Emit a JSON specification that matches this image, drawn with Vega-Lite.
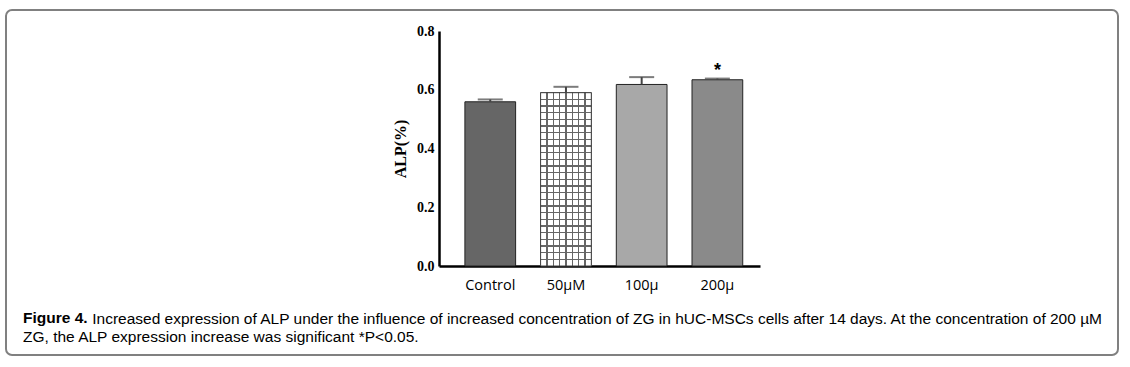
{
  "$schema": "https://vega.github.io/schema/vega-lite/v6.json",
  "autosize": {"type": "none"},
  "width": 1112,
  "height": 345,
  "padding": {"left": 6, "top": 10, "right": 12, "bottom": 12},
  "background": "white",
  "config": {
    "view": {"stroke": "#808080", "strokeWidth": 2, "cornerRadius": 6},
    "axis": {"grid": false}
  },
  "title": {
    "text": "Figure 4.",
    "subtitle": "ZG, the ALP expression increase was significant *P<0.05.",
    "orient": "bottom",
    "anchor": "start",
    "frame": "bounds",
    "offset": -44,
    "dx": 17,
    "font": "Liberation Sans",
    "fontSize": 15.5,
    "fontWeight": "bold",
    "color": "#000000",
    "subtitleFont": "Liberation Sans",
    "subtitleFontSize": 15.5,
    "subtitleFontWeight": "normal",
    "subtitleColor": "#000000",
    "subtitlePadding": 3.5
  },
  "data": {
    "values": [
      {"group": "Control", "mean": 0.559, "upper": 0.567, "sig": ""},
      {"group": "50µM", "mean": 0.590, "upper": 0.610, "sig": ""},
      {"group": "100µ", "mean": 0.618, "upper": 0.643, "sig": ""},
      {"group": "200µ", "mean": 0.634, "upper": 0.638, "sig": "*"}
    ]
  },
  "encoding": {
    "x": {
      "field": "group",
      "type": "nominal",
      "sort": null,
      "scale": {"range": [433, 754], "paddingInner": 0.33, "paddingOuter": 0.285, "align": 0.6},
      "axis": {
        "orient": "bottom",
        "offset": -89,
        "title": "Increased expression of ALP under the influence of increased concentration of ZG in hUC-MSCs cells after 14 days. At the concentration of 200 µM",
        "titleX": 85.7,
        "titleY": 45.5,
        "titleAlign": "left",
        "titleAnchor": "start",
        "titleBaseline": "top",
        "titleFont": "Liberation Sans",
        "titleFontSize": 15.5,
        "titleFontWeight": "normal",
        "titleColor": "#000000",
        "ticks": false,
        "labelAngle": 0,
        "labelPadding": 12,
        "labelFont": "Open Sans",
        "labelFontSize": 14.5,
        "labelColor": "#000000",
        "domainColor": "#000000",
        "domainWidth": 2.5
      }
    },
    "y": {
      "field": "mean",
      "type": "quantitative",
      "scale": {"domain": [0, 0.8], "range": [256, 21], "nice": false, "zero": true},
      "axis": {
        "orient": "left",
        "offset": -433,
        "title": "ALP(%)",
        "titleFont": "Liberation Serif",
        "titleFontSize": 16,
        "titleFontWeight": "bold",
        "titleColor": "#000000",
        "titlePadding": 8,
        "values": [0, 0.2, 0.4, 0.6, 0.8],
        "format": ".1f",
        "ticks": false,
        "labelPadding": 5,
        "labelFont": "Liberation Serif",
        "labelFontSize": 14,
        "labelFontWeight": "bold",
        "labelColor": "#000000",
        "domainColor": "#000000",
        "domainWidth": 2.5
      }
    }
  },
  "layer": [
    {
      "mark": {"type": "bar", "stroke": "#222222", "strokeWidth": 1},
      "encoding": {
        "fill": {
          "field": "group",
          "type": "nominal",
          "sort": null,
          "scale": {"domain": ["Control", "50µM", "100µ", "200µ"], "range": ["#666666", "#ffffff", "#a8a8a8", "#8a8a8a"]},
          "legend": null
        }
      }
    },
    {
      "transform": [{"filter": "datum.group == '50µM'"}],
      "mark": {
        "type": "bar",
        "fill": {
          "gradient": "linear", "x1": 0, "y1": 0, "x2": 1, "y2": 0,
          "stops": [
            {"offset": 0, "color": "#ffffff"},
            {"offset": 0.113, "color": "#ffffff"}, {"offset": 0.113, "color": "#666666"}, {"offset": 0.137, "color": "#666666"}, {"offset": 0.137, "color": "#ffffff"},
            {"offset": 0.238, "color": "#ffffff"}, {"offset": 0.238, "color": "#666666"}, {"offset": 0.262, "color": "#666666"}, {"offset": 0.262, "color": "#ffffff"},
            {"offset": 0.363, "color": "#ffffff"}, {"offset": 0.363, "color": "#666666"}, {"offset": 0.387, "color": "#666666"}, {"offset": 0.387, "color": "#ffffff"},
            {"offset": 0.488, "color": "#ffffff"}, {"offset": 0.488, "color": "#666666"}, {"offset": 0.512, "color": "#666666"}, {"offset": 0.512, "color": "#ffffff"},
            {"offset": 0.613, "color": "#ffffff"}, {"offset": 0.613, "color": "#666666"}, {"offset": 0.637, "color": "#666666"}, {"offset": 0.637, "color": "#ffffff"},
            {"offset": 0.738, "color": "#ffffff"}, {"offset": 0.738, "color": "#666666"}, {"offset": 0.762, "color": "#666666"}, {"offset": 0.762, "color": "#ffffff"},
            {"offset": 0.863, "color": "#ffffff"}, {"offset": 0.863, "color": "#666666"}, {"offset": 0.887, "color": "#666666"}, {"offset": 0.887, "color": "#ffffff"},
            {"offset": 1, "color": "#ffffff"}
          ]
        }
      }
    },
    {
      "transform": [{"filter": "datum.group == '50µM'"}],
      "mark": {
        "type": "bar",
        "stroke": "#444444",
        "strokeWidth": 1,
        "fill": {
          "gradient": "linear", "x1": 0, "y1": 0, "x2": 0, "y2": 1,
          "stops": [
            {"offset": 0, "color": "rgba(0,0,0,0)"},
            {"offset": 0.035, "color": "rgba(0,0,0,0)"}, {"offset": 0.035, "color": "#666666"}, {"offset": 0.042, "color": "#666666"}, {"offset": 0.042, "color": "rgba(0,0,0,0)"},
            {"offset": 0.0734, "color": "rgba(0,0,0,0)"}, {"offset": 0.0734, "color": "#666666"}, {"offset": 0.0804, "color": "#666666"}, {"offset": 0.0804, "color": "rgba(0,0,0,0)"},
            {"offset": 0.1119, "color": "rgba(0,0,0,0)"}, {"offset": 0.1119, "color": "#666666"}, {"offset": 0.1189, "color": "#666666"}, {"offset": 0.1189, "color": "rgba(0,0,0,0)"},
            {"offset": 0.1503, "color": "rgba(0,0,0,0)"}, {"offset": 0.1503, "color": "#666666"}, {"offset": 0.1573, "color": "#666666"}, {"offset": 0.1573, "color": "rgba(0,0,0,0)"},
            {"offset": 0.1888, "color": "rgba(0,0,0,0)"}, {"offset": 0.1888, "color": "#666666"}, {"offset": 0.1958, "color": "#666666"}, {"offset": 0.1958, "color": "rgba(0,0,0,0)"},
            {"offset": 0.2273, "color": "rgba(0,0,0,0)"}, {"offset": 0.2273, "color": "#666666"}, {"offset": 0.2343, "color": "#666666"}, {"offset": 0.2343, "color": "rgba(0,0,0,0)"},
            {"offset": 0.2657, "color": "rgba(0,0,0,0)"}, {"offset": 0.2657, "color": "#666666"}, {"offset": 0.2727, "color": "#666666"}, {"offset": 0.2727, "color": "rgba(0,0,0,0)"},
            {"offset": 0.3042, "color": "rgba(0,0,0,0)"}, {"offset": 0.3042, "color": "#666666"}, {"offset": 0.3112, "color": "#666666"}, {"offset": 0.3112, "color": "rgba(0,0,0,0)"},
            {"offset": 0.3427, "color": "rgba(0,0,0,0)"}, {"offset": 0.3427, "color": "#666666"}, {"offset": 0.3497, "color": "#666666"}, {"offset": 0.3497, "color": "rgba(0,0,0,0)"},
            {"offset": 0.3811, "color": "rgba(0,0,0,0)"}, {"offset": 0.3811, "color": "#666666"}, {"offset": 0.3881, "color": "#666666"}, {"offset": 0.3881, "color": "rgba(0,0,0,0)"},
            {"offset": 0.4196, "color": "rgba(0,0,0,0)"}, {"offset": 0.4196, "color": "#666666"}, {"offset": 0.4266, "color": "#666666"}, {"offset": 0.4266, "color": "rgba(0,0,0,0)"},
            {"offset": 0.458, "color": "rgba(0,0,0,0)"}, {"offset": 0.458, "color": "#666666"}, {"offset": 0.465, "color": "#666666"}, {"offset": 0.465, "color": "rgba(0,0,0,0)"},
            {"offset": 0.4965, "color": "rgba(0,0,0,0)"}, {"offset": 0.4965, "color": "#666666"}, {"offset": 0.5035, "color": "#666666"}, {"offset": 0.5035, "color": "rgba(0,0,0,0)"},
            {"offset": 0.535, "color": "rgba(0,0,0,0)"}, {"offset": 0.535, "color": "#666666"}, {"offset": 0.542, "color": "#666666"}, {"offset": 0.542, "color": "rgba(0,0,0,0)"},
            {"offset": 0.5734, "color": "rgba(0,0,0,0)"}, {"offset": 0.5734, "color": "#666666"}, {"offset": 0.5804, "color": "#666666"}, {"offset": 0.5804, "color": "rgba(0,0,0,0)"},
            {"offset": 0.6119, "color": "rgba(0,0,0,0)"}, {"offset": 0.6119, "color": "#666666"}, {"offset": 0.6189, "color": "#666666"}, {"offset": 0.6189, "color": "rgba(0,0,0,0)"},
            {"offset": 0.6503, "color": "rgba(0,0,0,0)"}, {"offset": 0.6503, "color": "#666666"}, {"offset": 0.6573, "color": "#666666"}, {"offset": 0.6573, "color": "rgba(0,0,0,0)"},
            {"offset": 0.6888, "color": "rgba(0,0,0,0)"}, {"offset": 0.6888, "color": "#666666"}, {"offset": 0.6958, "color": "#666666"}, {"offset": 0.6958, "color": "rgba(0,0,0,0)"},
            {"offset": 0.7273, "color": "rgba(0,0,0,0)"}, {"offset": 0.7273, "color": "#666666"}, {"offset": 0.7343, "color": "#666666"}, {"offset": 0.7343, "color": "rgba(0,0,0,0)"},
            {"offset": 0.7657, "color": "rgba(0,0,0,0)"}, {"offset": 0.7657, "color": "#666666"}, {"offset": 0.7727, "color": "#666666"}, {"offset": 0.7727, "color": "rgba(0,0,0,0)"},
            {"offset": 0.8042, "color": "rgba(0,0,0,0)"}, {"offset": 0.8042, "color": "#666666"}, {"offset": 0.8112, "color": "#666666"}, {"offset": 0.8112, "color": "rgba(0,0,0,0)"},
            {"offset": 0.8427, "color": "rgba(0,0,0,0)"}, {"offset": 0.8427, "color": "#666666"}, {"offset": 0.8497, "color": "#666666"}, {"offset": 0.8497, "color": "rgba(0,0,0,0)"},
            {"offset": 0.8811, "color": "rgba(0,0,0,0)"}, {"offset": 0.8811, "color": "#666666"}, {"offset": 0.8881, "color": "#666666"}, {"offset": 0.8881, "color": "rgba(0,0,0,0)"},
            {"offset": 0.9196, "color": "rgba(0,0,0,0)"}, {"offset": 0.9196, "color": "#666666"}, {"offset": 0.9266, "color": "#666666"}, {"offset": 0.9266, "color": "rgba(0,0,0,0)"},
            {"offset": 0.958, "color": "rgba(0,0,0,0)"}, {"offset": 0.958, "color": "#666666"}, {"offset": 0.965, "color": "#666666"}, {"offset": 0.965, "color": "rgba(0,0,0,0)"},
            {"offset": 1, "color": "rgba(0,0,0,0)"}
          ]
        }
      }
    },
    {
      "mark": {"type": "rule", "color": "#444444", "strokeWidth": 2},
      "encoding": {
        "y": {"field": "mean", "type": "quantitative"},
        "y2": {"field": "upper"}
      }
    },
    {
      "mark": {"type": "tick", "color": "#444444", "size": 25, "thickness": 2},
      "encoding": {
        "y": {"field": "upper", "type": "quantitative"}
      }
    },
    {
      "transform": [{"filter": "datum.sig != ''"}],
      "mark": {"type": "text", "fontSize": 18, "fontWeight": "bold", "font": "Liberation Sans", "baseline": "bottom", "dy": 1, "color": "#000000"},
      "encoding": {
        "y": {"field": "upper", "type": "quantitative"},
        "text": {"field": "sig"}
      }
    }
  ]
}
